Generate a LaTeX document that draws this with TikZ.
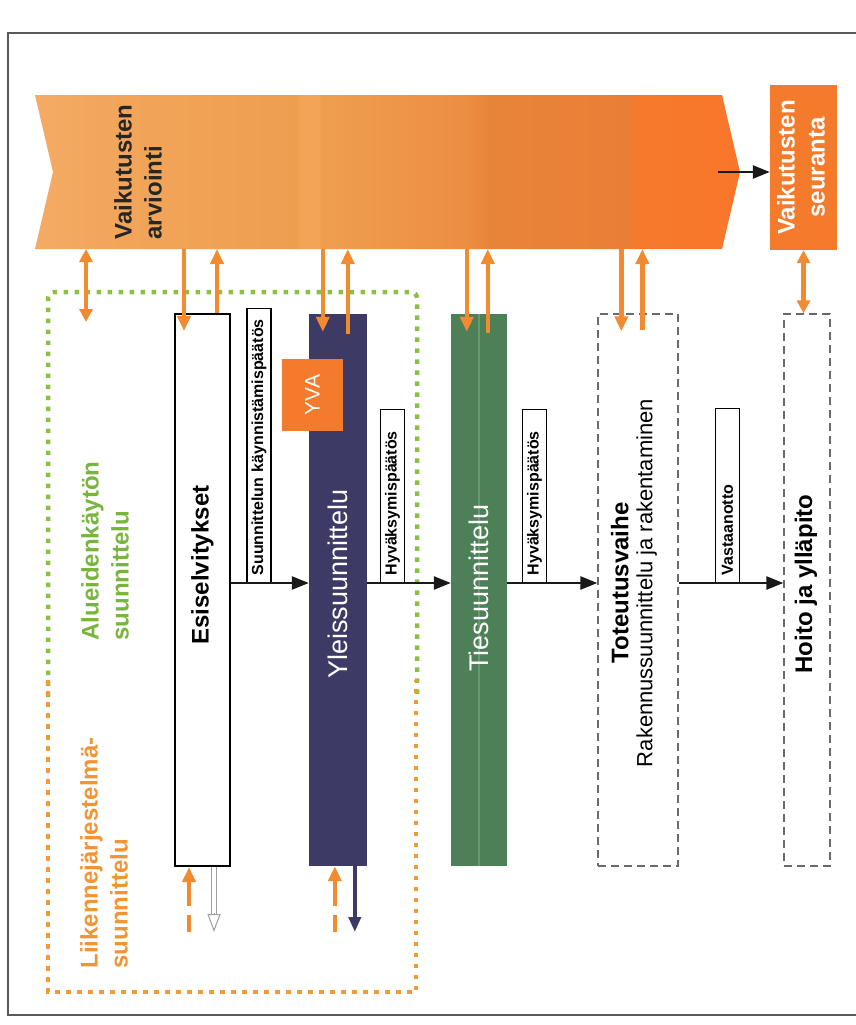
\documentclass[tikz,border=0pt]{standalone}
\usepackage{fontspec}
\usepackage{graphicx}
\setmainfont{Liberation Sans}
\usetikzlibrary{arrows.meta}
\definecolor{oranssi}{HTML}{F28A30}
\definecolor{violetti}{HTML}{3E3A66}
\definecolor{vihrea}{HTML}{4E8057}
\definecolor{vihrealinja}{HTML}{6A9870}
\definecolor{seurvari}{HTML}{F47A2C}
\definecolor{alueteksti}{HTML}{79B53C}
\definecolor{aluepiste}{HTML}{8CC043}
\definecolor{liikteksti}{HTML}{F29433}
\definecolor{liikpiste}{HTML}{F39A38}
\definecolor{kehysvari}{HTML}{5A5A5A}
\definecolor{katkovari}{HTML}{6A6A6A}
\definecolor{arvA}{HTML}{F4AB64}
\definecolor{arvB}{HTML}{F2A65B}
\definecolor{arvC}{HTML}{EF9E50}
\definecolor{arvD}{HTML}{F3A457}
\definecolor{arvE}{HTML}{EC8E43}
\definecolor{arvF}{HTML}{E8843A}
\definecolor{arvG}{HTML}{E97F36}
\definecolor{arvH}{HTML}{F67A2D}
\definecolor{arvI}{HTML}{F8762A}
\pgfdeclarehorizontalshading{arvshade}{100bp}{color(0bp)=(arvA); color(25bp)=(arvA);
  color(29.9bp)=(arvB); color(43.6bp)=(arvC); color(43.8bp)=(arvD); color(45.1bp)=(arvD);
  color(45.3bp)=(arvC); color(55.5bp)=(arvE); color(57.3bp)=(arvF); color(67.1bp)=(arvG);
  color(67.5bp)=(arvH); color(75bp)=(arvI); color(100bp)=(arvI)}
\tikzset{
  kehys/.style={draw=kehysvari,line width=1.5pt},
  vaihe/.style={rectangle,minimum height=552pt,inner sep=0pt},
  katko/.style={draw=katkovari,line width=1.3pt,dash pattern=on 8pt off 5pt},
  paatos/.style={draw=black,line width=1.5pt,fill=white,rotate=90,anchor=west,inner xsep=7pt,
    inner ysep=2pt,minimum height=24pt,align=left,font=\bfseries\fontsize{16}{18}\selectfont},
  virta/.style={draw=black!90,line width=2.5pt,-{Triangle[length=17pt,width=13pt]}},
  oarr/.style={draw=oranssi,line width=4.5pt,-{Triangle[length=15pt,width=13pt]}},
  oboth/.style={draw=oranssi,line width=4.5pt,{Triangle[length=13pt,width=13pt]}-{Triangle[length=13pt,width=13pt]}},
  okatko/.style={oarr,dash pattern=on 17pt off 9pt on 60pt off 1pt},
  parr/.style={draw=violetti,line width=4.5pt,-{Triangle[length=15pt,width=12pt]}},
  onto/.style={draw=gray!75,line width=1pt,double=white,double distance=3.5pt},
  ontokarki/.style={draw=gray!75,line width=1pt,-{Triangle[open,length=18pt,width=13pt]}},
  aluedot/.style={draw=aluepiste,line width=4.5pt,dash pattern=on 4.5pt off 6.5pt},
  liikdot/.style={draw=liikpiste,line width=4.5pt,dash pattern=on 4.5pt off 6.5pt},
  pysty/.style={rotate=90,inner sep=0pt}
}
\begin{document}
\begin{tikzpicture}[x=1pt,y=-1pt,font=\fontsize{24}{30}\selectfont]
\useasboundingbox (0,0) rectangle (855,1025);
\draw[kehys] (856,33) -- (8,33) -- (8,1015) -- (856,1015);

\shade[shading=arvshade] (35,95) -- (722,95) -- (740,172) -- (722,249) -- (35,249) -- (53,172) -- cycle;
\coordinate (arvS) at (0,249);
\coordinate (arvK) at (718,172);
\node[pysty,align=left,text=black!85,font=\bfseries\fontsize{24}{30}\selectfont] (arvT) at (138,172) {Vaikutusten\\arviointi};
\node[fill=seurvari,minimum width=67pt,minimum height=165pt,inner sep=0pt,text=white,
  font=\bfseries\fontsize{24}{30}\selectfont] (seur) at (803.5,167.5)
  {\rotatebox{90}{\begin{tabular}{@{}c@{}}Vaikutusten\\seuranta\end{tabular}}};

\draw[aluedot,rounded corners=6pt] (48,697) -- (48,292) -- (417,292) -- (417,697);
\draw[liikdot] (48,680) -- (48,992) -- (416,992) -- (416,680);
\node[pysty,align=left,text=alueteksti,font=\bfseries\fontsize{24}{30}\selectfont] (alueT) at (105,551) {Alueidenkäytön\\suunnittelu};
\node[pysty,align=left,text=liikteksti,font=\bfseries\fontsize{24}{30}\selectfont] (liikT) at (104,853) {Liikennejärjestelmä-\\suunnittelu};

\node[vaihe,draw=black,line width=2pt,fill=white,minimum width=55pt] (esi) at (202.5,590) {};
\node[vaihe,fill=violetti,minimum width=58pt] (yle) at (338,590) {};
\node[vaihe,fill=vihrea,minimum width=56pt] (ties) at (479,590) {};
\node[vaihe,katko,minimum width=80pt] (tot) at (638,590) {};
\node[vaihe,katko,minimum width=46pt] (hoito) at (807,590) {};
\draw[vihrealinja,line width=1.5pt] (ties.north) -- (ties.south);

\node[pysty,font=\bfseries\fontsize{24}{30}\selectfont] (esiT) at (202.5,565) {Esiselvitykset};
\node[pysty,text=white,font=\fontsize{27}{30}\selectfont] (yleT) at (338,584) {Yleissuunnittelu};
\node[pysty,text=white,font=\fontsize{27}{30}\selectfont] (tiesT) at (479,588) {Tiesuunnittelu};
\node[pysty,align=center,font=\fontsize{22}{24}\selectfont] (totT) at (634,583)
  {\textbf{\fontsize{24}{24}\selectfont Toteutusvaihe}\\Rakennussuunnittelu ja rakentaminen};
\node[pysty,font=\bfseries\fontsize{24}{30}\selectfont] (hoitoT) at (806,584) {Hoito ja ylläpito};

\node[fill=seurvari,minimum width=61pt,minimum height=72pt,inner sep=0pt,text=white,
  font=\fontsize{21}{24}\selectfont] (yva) at (312.5,395) {\rotatebox{90}{YVA}};

\coordinate (flow) at (0,583);
\node[paatos,text width=260pt] (p1) at (259,583) {\mbox{Suunnittelun käynnistämispäätös}};
\node[paatos,text width=159pt] (p2) at (392.5,583) {\mbox{Hyväksymispäätös}};
\node[paatos,text width=159pt] (p3) at (534.5,583) {\mbox{Hyväksymispäätös}};
\node[paatos,text width=160pt] (p4) at (727.5,583) {\mbox{Vastaanotto}};

\draw[virta] (esi.east |- flow) -- (yle.west |- flow);
\draw[virta] (yle.east |- flow) -- (ties.west |- flow);
\draw[virta] (ties.east |- flow) -- (tot.west |- flow);
\draw[virta] (tot.east |- flow) -- (hoito.west |- flow);
\draw[virta] (arvK) -- (seur.west |- arvK);

\foreach \b/\dx/\ux/\us in {esi/10/43/0,yle/14/39/20,ties/16/37/19,tot/24/45/17} {
  \path (\b.north west) ++(\dx,0) coordinate (\b-d);
  \path (\b.north west) ++(\ux,\us) coordinate (\b-u);
  \draw[oarr] (\b-d |- arvS) -- ([yshift=-18pt]\b-d);
  \draw[oarr] (\b-u) -- (\b-u |- arvS);
}
\coordinate (ak) at (86,322);
\draw[oboth] (ak |- arvS) -- (ak);
\draw[oboth] (seur.south) -- (seur.south |- hoito.north);

\coordinate (ala) at (0,932);
\path (esi.south west) ++(15,0) coordinate (esi-a) ++(25,0) coordinate (esi-b);
\path (yle.south west) ++(26,0) coordinate (yle-a) ++(20,0) coordinate (yle-b);
\coordinate (esi-bl) at (esi-b |- ala);
\draw[okatko] (esi-a |- ala) -- (esi-a);
\draw[onto] (esi-b) -- ([yshift=17pt]esi-bl);
\draw[ontokarki] ([yshift=19pt]esi-bl) -- (esi-bl);
\draw[okatko] (yle-a |- ala) -- (yle-a);
\draw[parr] (yle-b) -- (yle-b |- ala);
\end{tikzpicture}
\end{document}
